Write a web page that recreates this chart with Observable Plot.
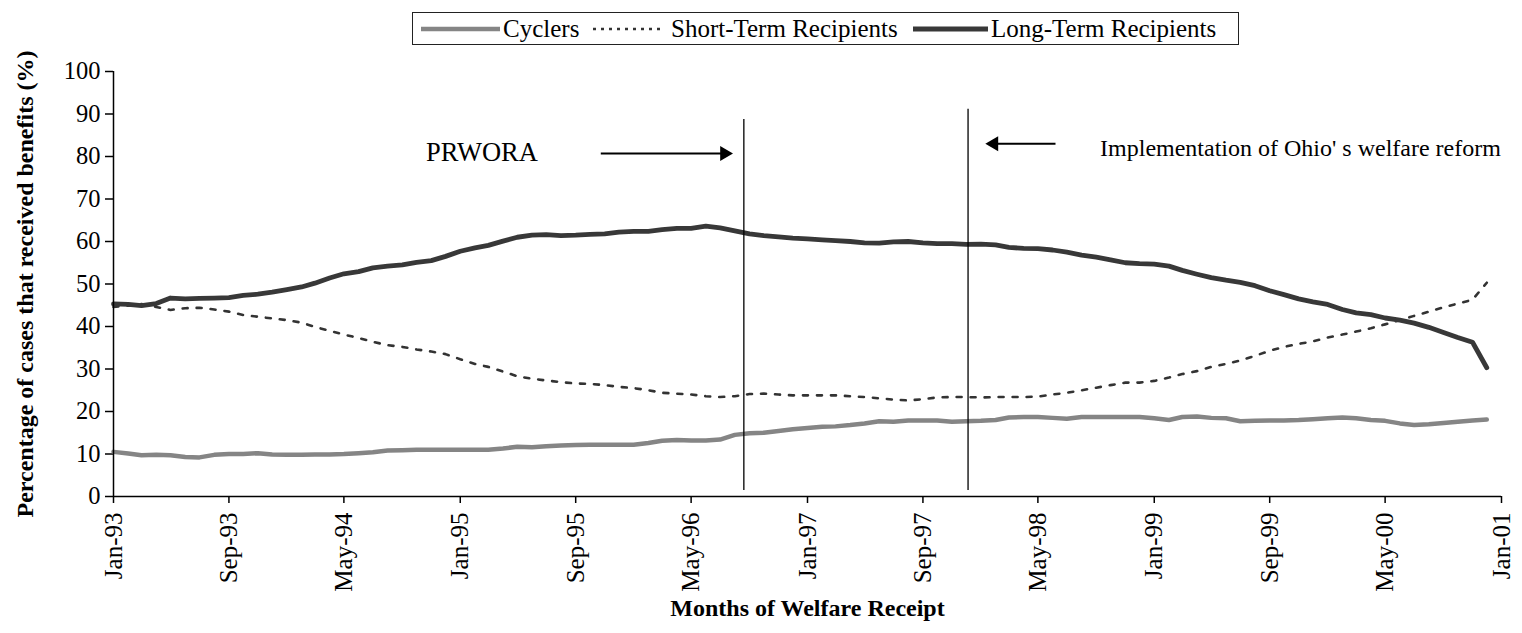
<!DOCTYPE html>
<html><head><meta charset="utf-8">
<script src="https://cdn.jsdelivr.net/npm/d3@7"></script>
<script src="https://cdn.jsdelivr.net/npm/@observablehq/plot@0.6"></script>
<style>
html,body{margin:0;padding:0;background:#fff;}
#wrap{position:relative;width:1522px;height:633px;overflow:hidden;font-family:"Liberation Serif","Times New Roman",serif;color:#000;}
#legend{position:relative;width:1522px;height:50px;}
#legend .box{position:absolute;left:412px;top:12px;width:825px;height:31px;border:1.5px solid #222;}
#legend .item{position:absolute;top:0;height:31px;display:flex;align-items:center;font-size:25px;white-space:nowrap;}
#chart svg{display:block;}
</style></head>
<body><div id="wrap"><div id="legend"></div><div id="chart"></div></div>
<script>
// ---- data (monthly, Jan-93 .. Dec-00), percent of cases ----
const firstMonth = "1993-01-01";
const seriesNames = ["Cyclers", "Short-Term Recipients", "Long-Term Recipients"];
const cyclers = [10.5,10.1,9.7,9.8,9.7,9.3,9.2,9.8,10.0,10.0,
  10.2,9.9,9.8,9.8,9.9,9.9,10.0,10.2,10.4,10.8,
  10.9,11.0,11.0,11.0,11.0,11.0,11.0,11.3,11.7,11.6,
  11.8,12.0,12.1,12.2,12.2,12.2,12.2,12.6,13.1,13.3,
  13.2,13.2,13.4,14.5,14.9,15.0,15.4,15.8,16.1,16.4,
  16.5,16.8,17.2,17.7,17.6,17.9,17.9,17.9,17.6,17.7,
  17.8,18.0,18.6,18.7,18.7,18.5,18.3,18.7,18.7,18.7,
  18.7,18.7,18.4,18.0,18.7,18.8,18.5,18.4,17.7,17.8,
  17.9,17.9,18.0,18.2,18.4,18.6,18.4,18.0,17.8,17.2,
  16.8,17.0,17.3,17.6,17.9,18.1];
const shortTerm = [44.6,44.9,45.3,44.6,43.9,44.3,44.4,44.0,43.5,42.7,
  42.3,41.9,41.5,40.9,39.9,39.0,38.1,37.3,36.4,35.6,
  35.2,34.6,34.1,33.5,32.3,31.2,30.5,29.4,28.3,27.7,
  27.3,26.9,26.6,26.5,26.2,25.8,25.5,25.0,24.4,24.2,
  24.0,23.6,23.4,23.6,24.1,24.2,24.0,23.8,23.8,23.8,
  23.8,23.6,23.4,23.1,22.8,22.6,22.9,23.3,23.4,23.4,
  23.3,23.4,23.4,23.4,23.5,24.0,24.4,25.0,25.6,26.2,
  26.8,26.8,27.2,28.0,28.8,29.5,30.5,31.2,32.0,33.1,
  34.3,35.2,35.9,36.5,37.4,38.1,38.8,39.6,40.5,41.5,
  42.5,43.5,44.5,45.4,46.3,50.3];
const longTerm = [45.3,45.2,44.9,45.4,46.7,46.5,46.6,46.7,46.8,47.3,
  47.6,48.1,48.7,49.3,50.2,51.4,52.4,52.9,53.8,54.2,
  54.5,55.1,55.5,56.5,57.7,58.5,59.1,60.1,61.0,61.5,
  61.6,61.4,61.5,61.7,61.8,62.2,62.4,62.4,62.8,63.1,
  63.1,63.6,63.2,62.5,61.8,61.4,61.1,60.8,60.6,60.4,
  60.2,60.0,59.7,59.6,59.9,60.0,59.7,59.5,59.5,59.3,
  59.4,59.2,58.6,58.4,58.3,58.0,57.5,56.8,56.3,55.7,
  55.0,54.8,54.7,54.2,53.2,52.3,51.5,50.9,50.4,49.6,
  48.4,47.5,46.5,45.8,45.2,44.0,43.2,42.8,42.0,41.5,
  40.8,39.8,38.6,37.4,36.3,30.3];
const tickLabels = ["Jan-93","Sep-93","May-94","Jan-95","Sep-95","May-96","Jan-97",
  "Sep-97","May-98","Jan-99","Sep-99","May-00","Jan-01"];
const yTicks = [0,10,20,30,40,50,60,70,80,90,100];
const eventNames = ["PRWORA", "Implementation of Ohio' s welfare reform"];
const eventDates = ["1996-08-20", "1997-12-05"];

// ---- build table ----
const start = new Date(firstMonth + "T00:00:00Z");
const monthDate = i => d3.utcMonth.offset(start, i);
const parseTick = d3.utcParse("%b-%y");
const tickDates = tickLabels.map(parseTick);
const rows = [];
[cyclers, shortTerm, longTerm].forEach((arr, k) =>
  arr.forEach((v, i) => rows.push({series: seriesNames[k], date: monthDate(i), value: v})));
const bySeries = name => rows.filter(r => r.series === name);
const evDate = eventDates.map(s => new Date(s + "T00:00:00Z"));

const styles = {
  "Cyclers": {stroke: "#858585", strokeWidth: 4.5, dash: null},
  "Short-Term Recipients": {stroke: "#333", strokeWidth: 2.6, dash: "5,9"},
  "Long-Term Recipients": {stroke: "#383838", strokeWidth: 4.8, dash: null}
};

// annotation anchors (fractional months from Jan-93, percent)
function monthFrac(m){ const d = d3.utcMonth.offset(start, Math.floor(m)); return new Date(+d + (m - Math.floor(m)) * 30.44 * 864e5); }
const prworaText = {x: monthFrac(21.65), y: 81};
const ohioText = {x: monthFrac(68.26), y: 81.9};
const arrows = [
  {x1: monthFrac(33.75), x2: monthFrac(42.3), y: 80.7, rot: 90},
  {x1: monthFrac(65.2), x2: monthFrac(60.9), y: 83, rot: -90}
];

const chart = Plot.plot({
  width: 1522, height: 583,
  marginLeft: 113, marginRight: 21, marginTop: 21, marginBottom: 137,
  style: {fontFamily: "'Liberation Serif','Times New Roman',serif", color: "#000", background: "#fff"},
  x: {type: "utc", domain: [start, monthDate(96)]},
  y: {domain: [0, 100]},
  marks: [
    Plot.axisY({ticks: yTicks, tickSize: 8, tickPadding: 5, fontSize: 24.5, strokeWidth: 1.5, label: null}),
    Plot.axisX({ticks: tickDates, tickFormat: d3.utcFormat("%b-%y"), tickRotate: -90, tickSize: 7,
      tickPadding: 9, fontSize: 25, strokeWidth: 1.5, label: null}),
    ...seriesNames.map(n => Plot.line(bySeries(n), {x: "date", y: "value",
      stroke: styles[n].stroke, strokeWidth: styles[n].strokeWidth,
      strokeDasharray: styles[n].dash, strokeLinejoin: "round", curve: "linear"})),
    Plot.ruleY([0], {stroke: "#000", strokeWidth: 1.5}),
    Plot.ruleX([start], {stroke: "#000", strokeWidth: 1.5}),
    Plot.ruleX(evDate, {y1: 1.4, y2: (d, i) => i === 0 ? 88.7 : 91.1, stroke: "#000", strokeWidth: 1.3}),
    Plot.text([eventNames[0]], {x: prworaText.x, y: prworaText.y, textAnchor: "start", fontSize: 26.5}),
    Plot.text([eventNames[1]], {x: ohioText.x, y: ohioText.y, textAnchor: "start", fontSize: 24}),
    Plot.link(arrows, {x1: "x1", x2: "x2", y1: "y", y2: "y", stroke: "#000", strokeWidth: 2}),
    Plot.dot(arrows, {x: "x2", y: "y", symbol: "triangle", r: 5.5, fill: "#000", stroke: null, rotate: "rot"}),
    Plot.text(["Percentage of cases that received benefits (%)"], {frameAnchor: "left", dx: -88, rotate: -90,
      fontSize: 24, fontWeight: "bold", textAnchor: "middle"}),
    Plot.text(["Months of Welfare Receipt"], {frameAnchor: "bottom", dy: 119, fontSize: 24,
      fontWeight: "bold", textAnchor: "middle"})
  ]
});
document.getElementById("chart").appendChild(chart);

// ---- legend ----
const legend = document.getElementById("legend");
const box = document.createElement("div"); box.className = "box"; legend.appendChild(box);
const lay = [
  {lineX: 8, lineW: 79, textX: 90},
  {lineX: 180, lineW: 70, textX: 258},
  {lineX: 500, lineW: 75, textX: 578}
];
seriesNames.forEach((n, i) => {
  const s = styles[n];
  const it = document.createElement("div"); it.className = "item"; it.style.left = lay[i].lineX + "px";
  it.innerHTML = `<svg width="${lay[i].lineW}" height="10" style="display:block"><line x1="0" y1="5" x2="${lay[i].lineW}" y2="5" stroke="${s.stroke}" stroke-width="${s.strokeWidth}" ${s.dash ? `stroke-dasharray="3,5"` : ""}/></svg>`;
  box.appendChild(it);
  const t = document.createElement("div"); t.className = "item"; t.style.left = lay[i].textX + "px"; t.textContent = n;
  box.appendChild(t);
});
</script></body></html>
